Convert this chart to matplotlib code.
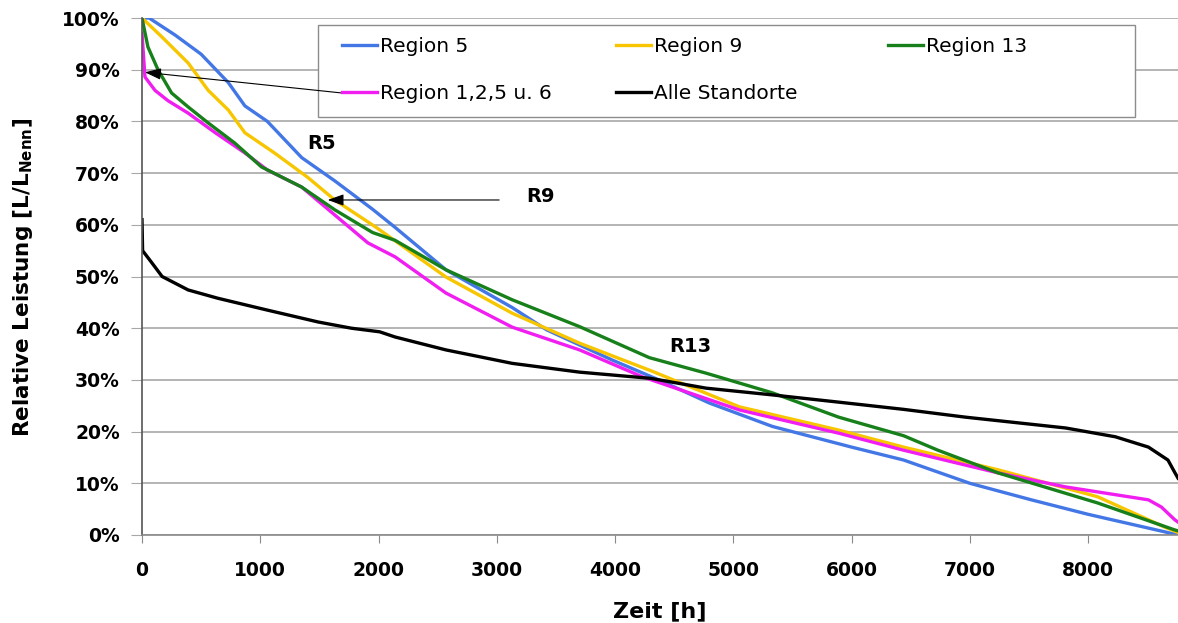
import numpy as np
import matplotlib
matplotlib.use('Agg')
import matplotlib.pyplot as plt
from matplotlib.ticker import FuncFormatter
from matplotlib.patches import Rectangle

plt.rcParams['font.family'] = ['DejaVu Sans']
plt.rcParams['mathtext.fontset'] = 'dejavusans'

# Geordnete Dauerlinien der relativen Leistung (Stunden / Prozent)
r5_h = [0, 60, 280, 500, 730, 870, 1060, 1350, 1630, 1950, 2140, 2570, 3130,
        3420, 3980, 4370, 4800, 5330, 6000, 6440, 7000, 7520, 8000, 8650, 8760]
r5_v = [100, 100, 96.7, 93, 87.5, 83, 80, 73, 68.5, 63, 59.5, 51.3, 44,
        39.7, 33.8, 30, 25.5, 21, 17, 14.5, 10, 6.8, 4, 0.6, 0]

r9_h = [0, 170, 390, 560, 730, 870, 1120, 1400, 1630, 1980, 2570, 3130, 3700,
        4300, 5050, 5890, 6440, 7240, 8080, 8650, 8760]
r9_v = [100, 96.3, 91.3, 86, 82.2, 77.8, 73.9, 69.2, 64.8, 59.5, 49.9, 42.9,
        37.1, 31.8, 24.8, 20.3, 17, 12.6, 7.4, 1.5, 0.5]

r13_h = [0, 50, 135, 250, 390, 560, 785, 1010, 1350, 1630, 1950, 2140, 2570,
         3130, 3700, 4290, 4770, 5330, 5890, 6440, 6730, 7240, 8080, 8730, 8760]
r13_v = [100, 94.4, 90, 85.5, 82.8, 79.7, 75.8, 71.2, 67.3, 62.9, 58.5, 57,
         51.3, 45.5, 40.3, 34.3, 31.3, 27.5, 22.8, 19.2, 16.4, 12, 6.2, 1, 0.8]

r1256_h = [0, 25, 110, 220, 390, 620, 870, 1060, 1350, 1630, 1910, 2140, 2570,
           3130, 3700, 4230, 5050, 5890, 6440, 7240, 7810, 8510, 8620, 8735, 8760]
r1256_v = [97, 88.6, 86, 84, 81.6, 77.8, 73.9, 70.6, 67.3, 61.9, 56.5, 53.8,
           46.8, 40.2, 35.8, 30.6, 24.2, 19.7, 16.4, 12, 9.3, 6.8, 5.4, 2.9, 2.5]

alle_h = [0, 5, 85, 170, 390, 640, 1060, 1490, 1770, 2010, 2140, 2570, 3130,
          3700, 4300, 4770, 5330, 5890, 6440, 6960, 7810, 8230, 8510, 8675,
          8735, 8760]
alle_v = [61, 55, 52.6, 50, 47.4, 45.8, 43.5, 41.2, 40, 39.3, 38.3, 35.8, 33.2,
          31.5, 30.3, 28.4, 27.1, 25.7, 24.3, 22.8, 20.7, 19, 17, 14.5, 12, 11]

x_ticks = list(range(0, 9000, 1000))
y_ticks = list(range(0, 110, 10))

W, H = 1178, 623
fig = plt.figure(figsize=(W / 100, H / 100), dpi=100)
ax = fig.add_axes([142 / W, 1 - 535 / H, (W - 142) / W, (535 - 18) / H])

lw = 2.4
l5, = ax.plot(r5_h, r5_v, color='#4477e6', lw=lw, label='Region 5')
l9, = ax.plot(r9_h, r9_v, color='#f7c600', lw=lw, label='Region 9')
l1256, = ax.plot(r1256_h, r1256_v, color='#f01ef0', lw=lw, label='Region 1,2,5 u. 6')
l13, = ax.plot(r13_h, r13_v, color='#17801a', lw=lw, label='Region 13')
lall, = ax.plot(alle_h, alle_v, color='black', lw=lw, label='Alle Standorte')

ax.set_xlim(0, 8760)
ax.set_ylim(0, 100)
ax.set_xticks(x_ticks)
ax.set_yticks(y_ticks)
ax.yaxis.set_major_formatter(FuncFormatter(lambda v, p: f'{int(v)}%'))
ax.grid(axis='y', color='#a8a8a8', lw=1.2)
ax.set_axisbelow(True)
for s in ['top', 'right']:
    ax.spines[s].set_visible(False)
ax.spines['left'].set_color('#555555')
ax.spines['bottom'].set_color('#8a8a8a')
ax.spines['left'].set_linewidth(1.2)
ax.spines['bottom'].set_linewidth(1.2)
ax.tick_params(axis='x', direction='out', length=6, color='#8a8a8a', pad=13,
               labelsize=13.5)
ax.tick_params(axis='y', direction='out', length=8, color='#a8a8a8', pad=8,
               labelsize=13.5)
for t in ax.get_xticklabels() + ax.get_yticklabels():
    t.set_fontweight('bold')

ax.set_xlabel('Zeit [h]', fontsize=16, fontweight='bold')
ax.xaxis.set_label_coords(0.5, -0.128)
ax.set_ylabel(r'Relative Leistung [L/L$_{\mathbf{Nenn}}$]', fontsize=15.5,
              fontweight='bold')
ax.yaxis.set_label_coords(-0.103, 0.498)

# Legendenrahmen und drei Spalten
ax.add_patch(Rectangle((318 / W, 1 - 117 / H), (1135 - 318) / W, 92 / H,
                       transform=fig.transFigure, facecolor='white',
                       edgecolor='#8c8c8c', lw=1.0, zorder=3, clip_on=False))
columns = [([l5, l1256], 342), ([l9, lall], 616), ([l13], 888)]
for handles, x0 in columns:
    fig.legend(handles=handles, loc='upper left',
               bbox_to_anchor=(x0 / W, 1 - 37 / H), frameon=False,
               fontsize=14.5, handlelength=1.75, handletextpad=0.15,
               labelspacing=1.4, borderpad=0, borderaxespad=0)

arrow = dict(arrowstyle='-|>,head_length=0.7,head_width=0.25', color='black',
             lw=0.8, mutation_scale=14, shrinkA=0, shrinkB=0)
ax.annotate('', xy=(25, 89.5), xytext=(1688, 85.5), arrowprops=arrow, zorder=5)
ax.annotate('', xy=(1570, 64.8), xytext=(3020, 64.8), arrowprops=arrow, zorder=5)

ax.text(1520, 75.8, 'R5', fontsize=14, fontweight='bold', ha='center', va='center')
ax.text(3370, 65.4, 'R9', fontsize=14, fontweight='bold', ha='center', va='center')
ax.text(4640, 36.4, 'R13', fontsize=14, fontweight='bold', ha='center', va='center')

fig.savefig('out.png', dpi=100)
